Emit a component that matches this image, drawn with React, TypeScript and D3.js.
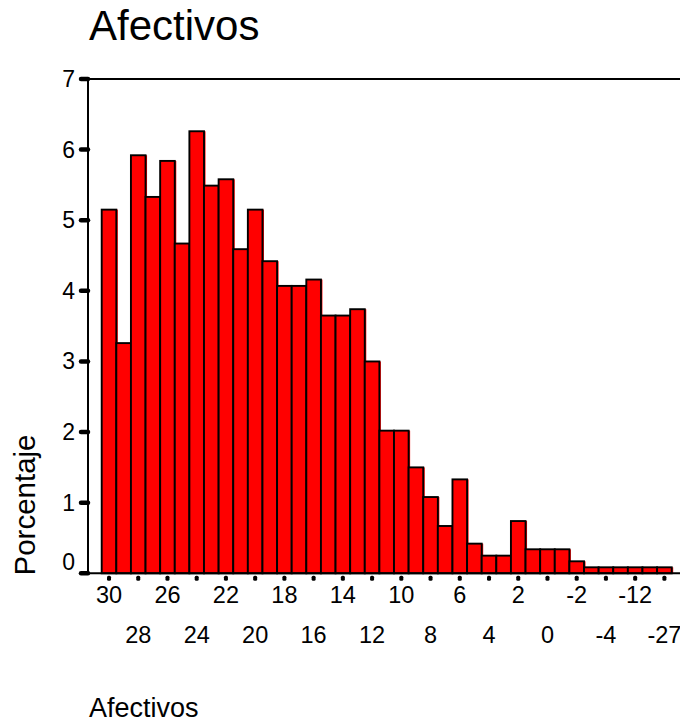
import React from "react";
import * as d3 from "d3";

const categories = [
  "30", "29", "28", "27", "26", "25", "24", "23", "22", "21",
  "20", "19", "18", "17", "16", "15", "14", "13", "12", "11",
  "10", "9", "8", "7", "6", "5", "4", "3", "2", "1",
  "0", "-1", "-2", "-3", "-4", "-6", "-12", "-17", "-27",
];
const percentages = [
  5.15, 3.26, 5.92, 5.33, 5.84, 4.67, 6.26, 5.49, 5.58, 4.59,
  5.15, 4.42, 4.07, 4.07, 4.16, 3.65, 3.65, 3.74, 3.0, 2.02,
  2.02, 1.5, 1.08, 0.67, 1.33, 0.42, 0.25, 0.25, 0.74, 0.34,
  0.34, 0.34, 0.17, 0.085, 0.085, 0.085, 0.085, 0.085, 0.085,
];
const yTicks = [0, 1, 2, 3, 4, 5, 6, 7];
const title = "Afectivos";
const yLabel = "Porcentaje";
const xLabel = "Afectivos";

const W = 680;
const H = 724;
const FONT = "'Liberation Sans', Arial, Helvetica, sans-serif";

export default function App() {
  const axisLeft = 88;
  const axisRight = 680;
  const yTop = 79;
  const yBottom = 573.3;

  const x = d3.scaleBand<string>().domain(categories).range([101.7, 671.7]).paddingInner(0).paddingOuter(0);
  const y = d3.scaleLinear().domain([0, 7]).range([yBottom, yTop]);
  const bw = x.bandwidth();

  return (
    <svg
      width={W}
      height={H}
      viewBox={`0 0 ${W} ${H}`}
      style={{ position: "absolute", left: 0, top: 0, display: "block", background: "#fff" }}
      fontFamily={FONT}
    >
      <rect x={0} y={0} width={W} height={H} fill="#fff" />
      <text x={89} y={40} fontSize={42} fill="#000">{title}</text>

      {/* bars */}
      <g>
        {categories.map((c, i) => (
          <rect
            key={"s" + c}
            x={(x(c) as number) + 1.5}
            y={y(percentages[i])}
            width={bw}
            height={yBottom - y(percentages[i])}
            fill="#ff0000"
          />
        ))}
        {categories.map((c, i) => (
          <rect
            key={c}
            x={x(c) as number}
            y={y(percentages[i])}
            width={bw}
            height={yBottom - y(percentages[i])}
            fill="#ff0000"
            stroke="#000"
            strokeWidth={1.9}
          />
        ))}
      </g>

      {/* frame lines */}
      <line x1={axisLeft} x2={axisRight} y1={yTop} y2={yTop} stroke="#000" strokeWidth={2} />
      <line x1={axisLeft} x2={axisRight} y1={yBottom} y2={yBottom} stroke="#000" strokeWidth={2} />
      <line x1={axisLeft} x2={axisLeft} y1={yTop} y2={yBottom} stroke="#000" strokeWidth={2} />

      {/* y ticks */}
      {yTicks.map((t) => (
        <g key={t}>
          <line x1={81} x2={88} y1={y(t)} y2={y(t)} stroke="#000" strokeWidth={4.5} strokeLinecap="round" />
          <text
            x={75}
            y={t === 0 ? y(t) - 3.5 : y(t) + 8}
            fontSize={23}
            textAnchor="end"
            fill="#000"
          >
            {t}
          </text>
        </g>
      ))}

      {/* x ticks & labels */}
      {categories.map((c, i) =>
        i % 2 === 0 ? (
          <g key={"t" + c}>
            <rect
              x={(x(c) as number) + bw / 2 - 2}
              y={yBottom + 2.5}
              width={4}
              height={5}
              rx={1.5}
              fill="#000"
            />
            <text
              x={(x(c) as number) + bw / 2}
              y={(i / 2) % 2 === 0 ? 603.3 : 643.3}
              fontSize={23.5}
              textAnchor="middle"
              fill="#000"
            >
              {c}
            </text>
          </g>
        ) : null
      )}

      <text
        transform={`translate(35, ${505}) rotate(-90)`}
        fontSize={29.5}
        textAnchor="middle"
        fill="#000"
      >
        {yLabel}
      </text>
      <text x={89} y={716.7} fontSize={27} fill="#000">{xLabel}</text>
    </svg>
  );
}
